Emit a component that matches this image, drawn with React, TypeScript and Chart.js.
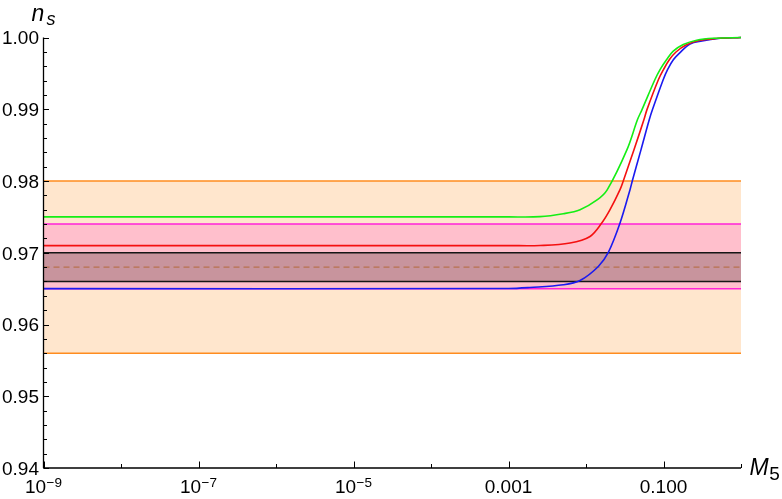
import { useEffect, useRef } from 'react';
import { Chart, registerables } from 'chart.js';

Chart.register(...registerables);

const X_MIN = 1e-9;
const X_MAX = 1;
const Y_MIN = 0.94;
const Y_MAX = 1.0;

// curves
const greenX = [1e-9, 0.001, 0.00255, 0.00509, 0.00838, 0.01406, 0.01884, 0.0338, 0.0462, 0.0528, 0.0776, 0.0902, 0.1099, 0.1336, 0.1799, 0.268, 0.4395, 1];
const greenY = [0.975, 0.975, 0.97503, 0.97544, 0.976, 0.97739, 0.97879, 0.98437, 0.98856, 0.98995, 0.99414, 0.99553, 0.99693, 0.99809, 0.99902, 0.99962, 0.99989, 1.0];

const redX = [1e-9, 0.001, 0.00255, 0.00622, 0.01127, 0.01596, 0.02042, 0.02748, 0.03027, 0.0416, 0.05598, 0.0612, 0.0861, 0.1, 0.1194, 0.1449, 0.195, 0.287, 0.475, 1];
const redY = [0.971, 0.971, 0.97101, 0.97135, 0.97227, 0.97414, 0.976, 0.97879, 0.98, 0.98437, 0.98856, 0.98995, 0.99414, 0.99553, 0.99693, 0.99798, 0.99895, 0.99958, 0.99986, 1.0];

const blueX = [1e-9, 0.001, 0.00189, 0.00509, 0.00838, 0.01442, 0.01941, 0.02748, 0.03698, 0.03954, 0.0513, 0.06561, 0.0721, 0.09931, 0.1128, 0.1346, 0.1634, 0.2198, 0.314, 0.505, 1];
const blueY = [0.965, 0.96502, 0.96516, 0.96553, 0.96613, 0.96809, 0.97004, 0.97414, 0.97879, 0.98, 0.98437, 0.98856, 0.98995, 0.99414, 0.99553, 0.99693, 0.9979, 0.99909, 0.99951, 0.99985, 1.0];

// horizontal bands
const orangeBand = [0.956, 0.98];
const pinkBand = [0.965, 0.974];
const blackBand = [0.966, 0.97];
const dashedLevel = 0.968;

// ticks
const xMajorTicks = [1e-9, 1e-7, 1e-5, 1e-3, 1e-1];
const xMajorLabels = [['10', '−9'], ['10', '−7'], ['10', '−5'], ['0.001', ''], ['0.100', '']];
const xMinorTicks = [1e-8, 1e-6, 1e-4, 1e-2, 1];
const yMajorTicks = [0.94, 0.95, 0.96, 0.97, 0.98, 0.99, 1.0];
const yMajorLabels = ['0.94', '0.95', '0.96', '0.97', '0.98', '0.99', '1.00'];
const yMinorTicks = [0.942, 0.944, 0.946, 0.948, 0.952, 0.954, 0.956, 0.958, 0.962, 0.964, 0.966, 0.968, 0.972, 0.974, 0.976, 0.978, 0.982, 0.984, 0.986, 0.988, 0.992, 0.994, 0.996, 0.998];

const FONT = '"Liberation Sans", Arial, sans-serif';

const toPts = (xs: number[], ys: number[]) => xs.map((x, i) => ({ x, y: ys[i] }));
const hLine = (y: number) => [{ x: X_MIN, y }, { x: X_MAX, y }];

const axesPlugin = {
  id: 'mmaAxes',
  afterDraw(chart: any) {
    const { ctx, scales } = chart;
    const xs = scales.x;
    const ys = scales.y;
    const x0 = xs.getPixelForValue(X_MIN);
    const x1 = xs.getPixelForValue(X_MAX);
    const y0 = ys.getPixelForValue(Y_MIN);
    const y1 = ys.getPixelForValue(Y_MAX);
    ctx.save();
    ctx.strokeStyle = '#000';
    ctx.fillStyle = '#000';
    ctx.lineWidth = 1.3;
    ctx.beginPath();
    ctx.moveTo(x0, y0);
    ctx.lineTo(x1, y0);
    ctx.moveTo(x0, y0);
    ctx.lineTo(x0, y1);
    ctx.stroke();

    ctx.lineWidth = 1;
    ctx.beginPath();
    xMajorTicks.forEach((v) => {
      const p = Math.round(xs.getPixelForValue(v)) + 0.5;
      ctx.moveTo(p, y0);
      ctx.lineTo(p, y0 - 6.5);
    });
    xMinorTicks.forEach((v) => {
      const p = Math.round(xs.getPixelForValue(v)) + 0.5;
      ctx.moveTo(p, y0);
      ctx.lineTo(p, y0 - 4);
    });
    yMajorTicks.forEach((v) => {
      const p = Math.round(ys.getPixelForValue(v)) + 0.5;
      ctx.moveTo(x0, p);
      ctx.lineTo(x0 + 5.5, p);
    });
    yMinorTicks.forEach((v) => {
      const p = Math.round(ys.getPixelForValue(v)) + 0.5;
      ctx.moveTo(x0, p);
      ctx.lineTo(x0 + 3.5, p);
    });
    ctx.stroke();

    // x tick labels
    const baseY = y0 + 25;
    xMajorLabels.forEach((lab, i) => {
      const p = xs.getPixelForValue(xMajorTicks[i]);
      ctx.textAlign = 'left';
      ctx.textBaseline = 'alphabetic';
      ctx.font = `19px ${FONT}`;
      const w1 = ctx.measureText(lab[0]).width;
      let w2 = 0;
      if (lab[1]) {
        ctx.font = `13.5px ${FONT}`;
        w2 = ctx.measureText(lab[1]).width + 0.5;
      }
      const start = p - (w1 + w2) / 2;
      ctx.font = `19px ${FONT}`;
      ctx.fillText(lab[0], start, baseY);
      if (lab[1]) {
        ctx.font = `13.5px ${FONT}`;
        ctx.fillText(lab[1], start + w1 + 0.5, baseY - 6.5);
      }
    });

    // y tick labels
    ctx.font = `19px ${FONT}`;
    ctx.textAlign = 'right';
    ctx.textBaseline = 'alphabetic';
    yMajorLabels.forEach((lab, i) => {
      const p = ys.getPixelForValue(yMajorTicks[i]);
      ctx.fillText(lab, x0 - 4.5, p + 6.8);
    });

    // axis titles
    ctx.textAlign = 'left';
    ctx.font = `italic 23px ${FONT}`;
    ctx.fillText('n', x0 - 12, y1 - 17);
    ctx.font = `italic 18px ${FONT}`;
    ctx.fillText('s', x0 + 3, y1 - 12.5);

    ctx.font = `italic 23px ${FONT}`;
    ctx.fillText('M', x1 + 8.5, y0 + 7);
    const mw = ctx.measureText('M').width;
    ctx.font = `19px ${FONT}`;
    ctx.fillText('5', x1 + 8.5 + mw + 0.5, y0 + 12);
    ctx.restore();
  },
};

export default function App() {
  const ref = useRef<HTMLCanvasElement | null>(null);
  useEffect(() => {
    if (!ref.current) return;
    const curve = (data: any[], color: string) => ({
      data,
      borderColor: color,
      borderWidth: 1.6,
      pointRadius: 0,
      fill: false,
      tension: 0.35,
      clip: false as any,
    });
    const band = (y: number, color: string, fill: any, bg: string, width = 1.5, dash: number[] = []) => ({
      data: hLine(y),
      borderColor: color,
      borderWidth: width,
      borderDash: dash,
      pointRadius: 0,
      fill,
      backgroundColor: bg,
      tension: 0,
      clip: false as any,
    });
    const chart = new Chart(ref.current, {
      type: 'line',
      data: {
        datasets: [
          curve(toPts(greenX, greenY), '#14EE14'),
          curve(toPts(redX, redY), '#F41010'),
          curve(toPts(blueX, blueY), '#1A1AF0'),
          band(dashedLevel, '#B7714F', false, 'transparent', 1.2, [6, 4]),
          band(blackBand[1], '#161616', '+1', '#C8949D'),
          band(blackBand[0], '#161616', false, 'transparent'),
          band(pinkBand[1], '#FF22D8', '+1', '#FFBFCC'),
          band(pinkBand[0], '#FF22D8', false, 'transparent'),
          band(orangeBand[1], '#FF8C1F', '+1', '#FFE6CD'),
          band(orangeBand[0], '#FF8C1F', false, 'transparent'),
        ] as any,
      },
      options: {
        animation: false,
        responsive: false,
        events: [],
        layout: { padding: { left: 43.5, right: 41, top: 37.5, bottom: 31 } },
        plugins: {
          legend: { display: false },
          tooltip: { enabled: false },
          filler: { drawTime: 'beforeDatasetsDraw' },
        } as any,
        scales: {
          x: { type: 'logarithmic', min: X_MIN, max: X_MAX, display: false },
          y: { type: 'linear', min: Y_MIN, max: Y_MAX, display: false },
        },
      },
      plugins: [axesPlugin],
    });
    return () => chart.destroy();
  }, []);
  return (
    <div style={{ position: 'absolute', left: 0, top: 0, width: 782, height: 499, background: '#fff' }}>
      <canvas ref={ref} width={782} height={499} />
    </div>
  );
}
